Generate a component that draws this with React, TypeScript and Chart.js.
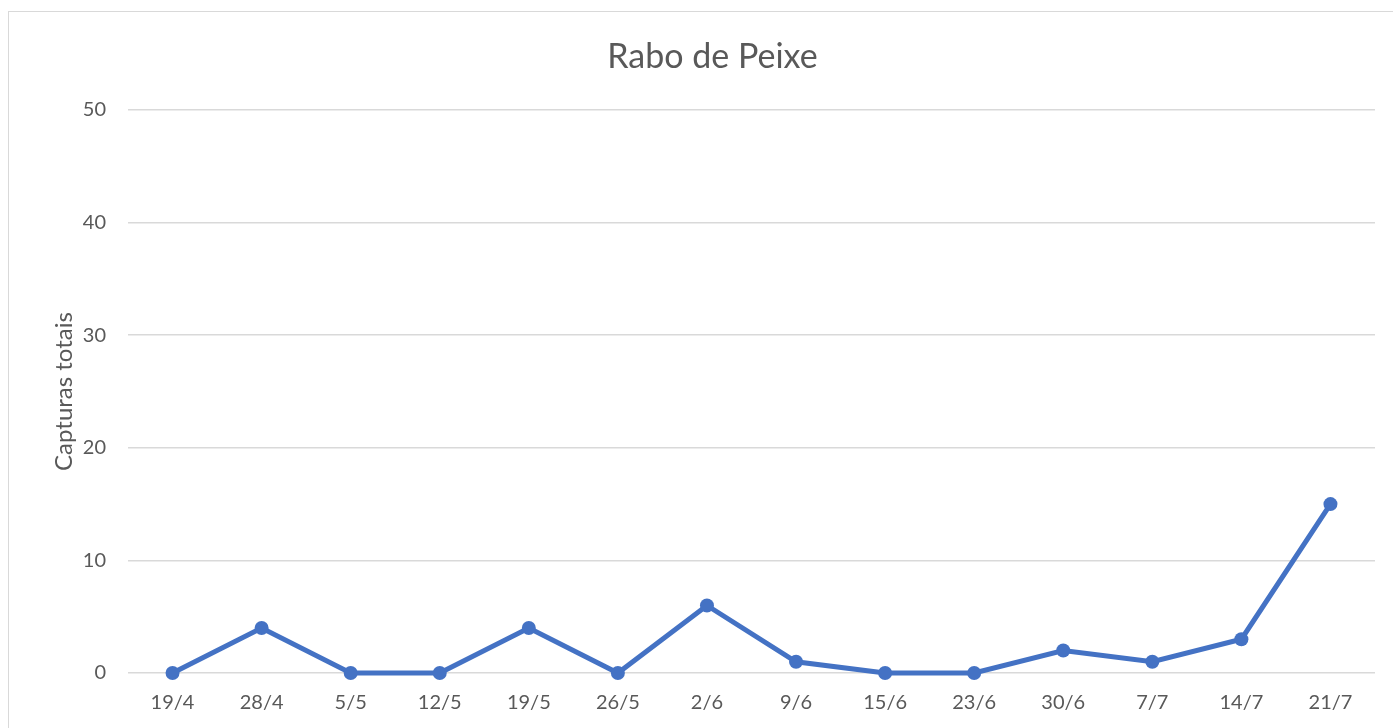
import React, { useEffect, useRef } from "react";
import { Chart, registerables } from "chart.js";

Chart.register(...registerables);

const categories = ["19/4", "28/4", "5/5", "12/5", "19/5", "26/5", "2/6", "9/6", "15/6", "23/6", "30/6", "7/7", "14/7", "21/7"];
const capturas = [0, 4, 0, 0, 4, 0, 6, 1, 0, 0, 2, 1, 3, 15];
const yMin = 0;
const yMax = 50;
const yStep = 10;

const FONT = "Lato, 'Open Sans', sans-serif";
const TEXT = "#595959";

export default function App() {
  const ref = useRef<HTMLCanvasElement | null>(null);
  useEffect(() => {
    document.body.style.overflow = "hidden";
    if (!ref.current) return;
    const chart = new Chart(ref.current, {
      type: "line",
      data: {
        labels: categories,
        datasets: [
          {
            label: "Capturas totais",
            data: capturas,
            borderColor: "#4472C4",
            backgroundColor: "#4472C4",
            borderWidth: 5,
            pointRadius: 7,
            pointHoverRadius: 7,
            pointBorderWidth: 0,
            tension: 0,
            clip: false,
          },
        ],
      },
      options: {
        animation: false,
        responsive: false,
        layout: { padding: { left: 41, right: 26, top: 0, bottom: 0 } },
        plugins: {
          legend: { display: false },
          tooltip: { enabled: false },
          title: {
            display: true,
            text: "Rabo de Peixe",
            color: TEXT,
            font: { family: FONT, size: 34, weight: "normal" },
            padding: { top: 24.6, bottom: 32.6 },
          },
        },
        scales: {
          x: {
            type: "category",
            offset: true,
            grid: { display: false, drawTicks: false },
            border: { display: false },
            ticks: {
              color: TEXT,
              font: { family: FONT, size: 20 },
              padding: 18,
              maxRotation: 0,
              autoSkip: false,
            },
            afterFit: (s: any) => {
              s.height = 55;
            },
          },
          y: {
            min: yMin,
            max: yMax,
            grid: { color: "#d9d9d9", lineWidth: 1.5, drawTicks: false },
            border: { display: false },
            ticks: {
              stepSize: yStep,
              color: TEXT,
              font: { family: FONT, size: 20 },
              padding: 22,
            },
            title: {
              display: true,
              text: "Capturas totais",
              color: TEXT,
              font: { family: FONT, size: 24 },
              padding: 0,
            },
            afterFit: (s: any) => {
              s.width = 78;
            },
          },
        },
      },
    });
    return () => chart.destroy();
  }, []);

  return (
    <div
      style={{
        position: "absolute",
        left: 8,
        top: 11,
        width: 1385,
        height: 717,
        overflow: "hidden",
        borderLeft: "1px solid #d9d9d9",
        borderTop: "1px solid #d9d9d9",
        background: "#fff",
      }}
    >
      <canvas ref={ref} width={1392} height={716} style={{ display: "block", width: 1392, height: 716 }} />
    </div>
  );
}
